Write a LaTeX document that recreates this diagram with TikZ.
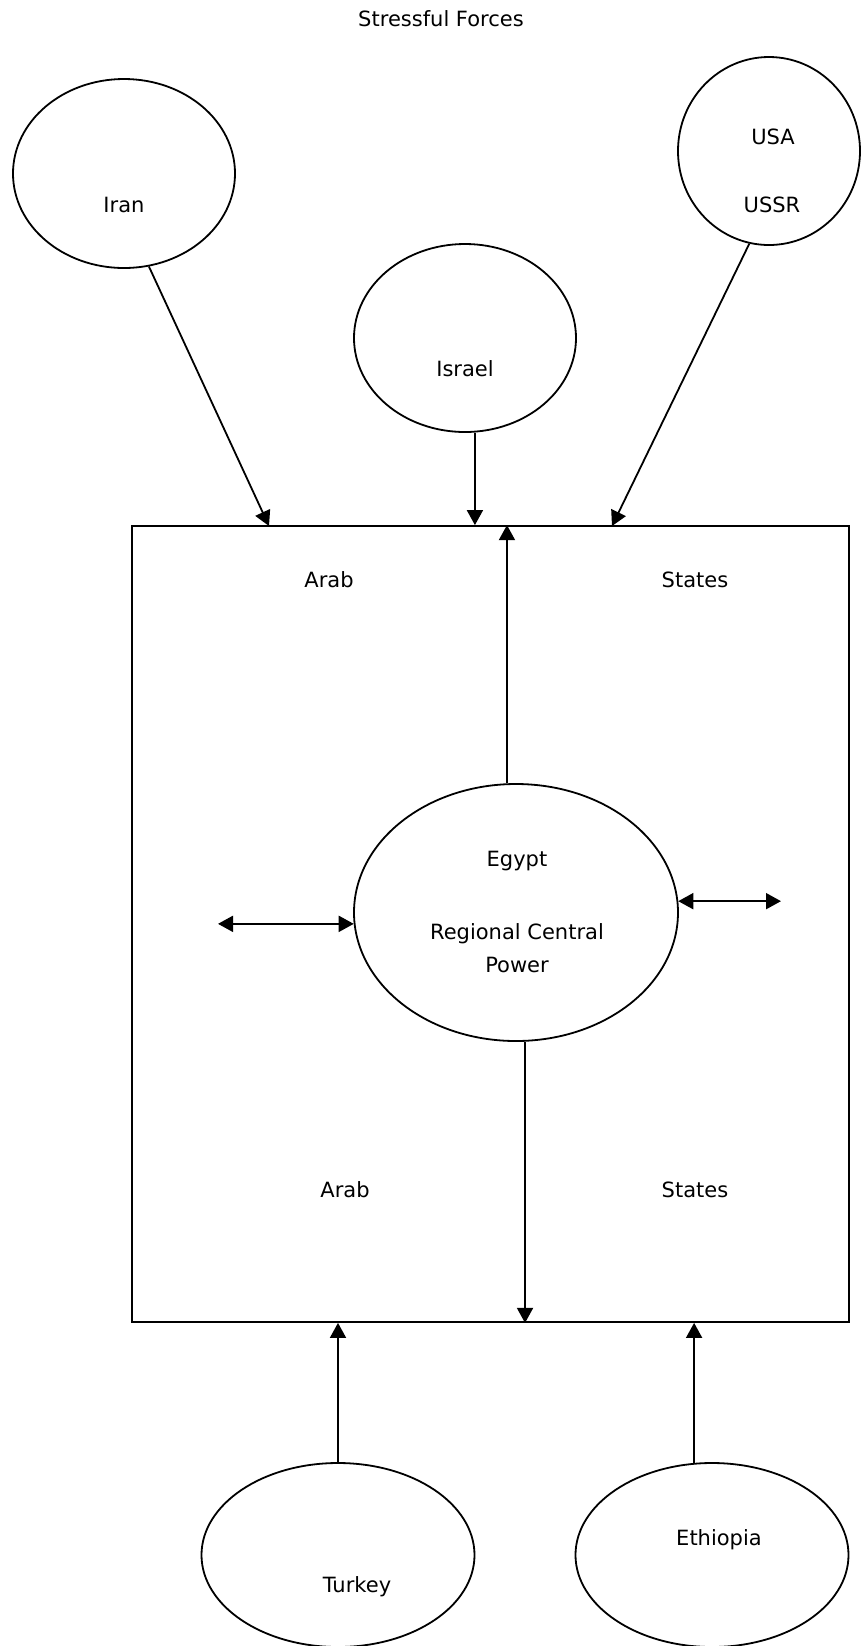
\documentclass[tikz,border=0pt]{standalone}
\usepackage{fontspec}
\setmainfont{DejaVu Sans}
\usetikzlibrary{shapes.geometric, arrows.meta}
\tikzstyle{arrow} = [line width=0.9pt,-{Triangle[length=7.5pt,width=8pt]}]
\tikzstyle{twoway} = [line width=0.9pt,{Triangle[length=7.5pt,width=8pt]}-{Triangle[length=7.5pt,width=8pt]}]
\tikzstyle{power} = [draw, ellipse, line width=0.9pt, inner sep=0pt]
\tikzstyle{tag} = [inner sep=0pt, font=\fontsize{10.5}{12}\selectfont]

\begin{document}
\begin{tikzpicture}[x=0.5pt,y=-0.5pt]
\useasboundingbox (0,0) rectangle (862,1646);

\node[tag] (title) at (441,19) {Stressful Forces};

% outside powers
\node[power, minimum width=111pt, minimum height=94.5pt] (iran) at (124,173.5) {};
\node[power, minimum width=111pt, minimum height=94pt] (israel) at (465,338) {};
\node[power, minimum width=91pt, minimum height=94pt] (usa) at (769,151) {};
\node[power, minimum width=136.5pt, minimum height=92pt] (turkey) at (338,1555) {};
\node[power, minimum width=136.5pt, minimum height=92pt] (ethiopia) at (712,1555) {};

\node[tag] (irantext) at (124,205) {Iran};
\node[tag] (israeltext) at (465,369) {Israel};
\node[tag] (usatext) at (773,137) {USA};
\node[tag] (ussrtext) at (772,205) {USSR};
\node[tag] (turkeytext) at (357,1587) {Turkey};
\node[tag] (ethiopiatext) at (719,1540) {Ethiopia};

% the arab states
\node[draw, line width=0.9pt, minimum width=358.5pt, minimum height=398pt] (region) at (490.5,924) {};
\node[tag] (arabtop) at (329,580) {Arab};
\node[tag] (statestop) at (695,580) {States};
\node[tag] (arabbottom) at (345,1190) {Arab};
\node[tag] (statesbottom) at (695,1190) {States};

% egypt
\node[power, minimum width=162pt, minimum height=128.5pt] (egypt) at (516,912.5) {};
\node[tag] (egypttext) at (517,861) {Egypt};
\node[tag, align=center, font=\fontsize{10.5}{16.5}\selectfont] (centraltext) at (517,948.5) {Regional Central\\Power};

\coordinate (westend) at (218,924);
\coordinate (eastend) at (781,900);
\coordinate (iranhit) at (269,526);
\coordinate (usahit) at (612,526);

\draw[arrow] (iran.-75) -- (iranhit);
\draw[arrow] (israel.-84) -- (israel.-84 |- region.north);
\draw[arrow] (usa.-102) -- (usahit);

\draw[arrow] (egypt.94) -- (egypt.94 |- region.north);
\draw[arrow] (egypt.-86) -- (egypt.-86 |- region.south);
\draw[twoway] (westend |- egypt.184) -- (egypt.184);
\draw[twoway] (egypt.4.4) -- (eastend |- egypt.4.4);

\draw[arrow] (turkey.north) -- (turkey.north |- region.south);
\draw[arrow] (ethiopia.101) -- (ethiopia.101 |- region.south);

\end{tikzpicture}
\end{document}
